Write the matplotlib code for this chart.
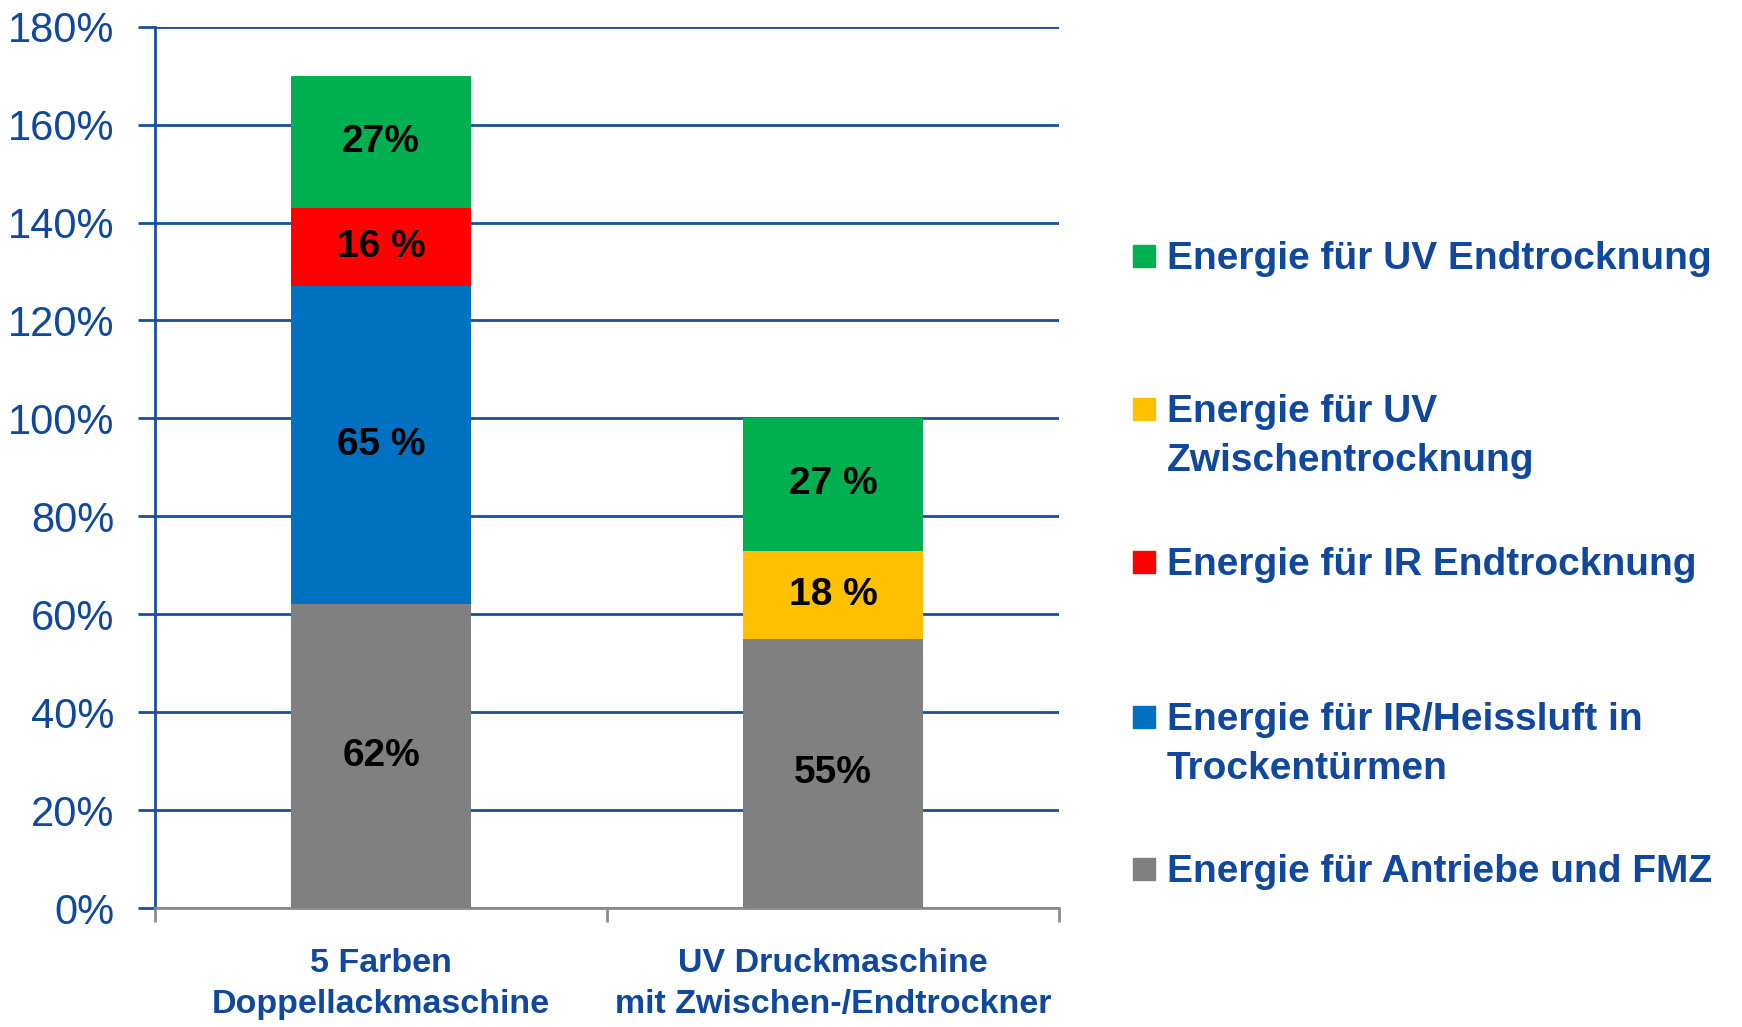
import numpy as np
import matplotlib.pyplot as plt
from matplotlib.patches import Rectangle

plt.rcParams["font.family"] = ["Liberation Sans", "DejaVu Sans"]

# ------------------------------------------ data
categories = ['5 Farben\nDoppellackmaschine', 'UV Druckmaschine\nmit Zwischen-/Endtrockner']
series = ['Energie für Antriebe und FMZ',
          'Energie für IR/Heissluft in\nTrockentürmen',
          'Energie für IR Endtrocknung',
          'Energie für UV\nZwischentrocknung',
          'Energie für UV Endtrocknung']
gray_vals = [62, 55]
blue_vals = [65, 0]
red_vals = [16, 0]
yellow_vals = [0, 18]
green_vals = [27, 27]
gray_lbl = ['62%', '55%']
blue_lbl = ['65 %', '']
red_lbl = ['16 %', '']
yellow_lbl = ['', '18 %']
green_lbl = ['27%', '27 %']
yticks = [0, 20, 40, 60, 80, 100, 120, 140, 160, 180]
ytick_labels = ['%d%%' % v for v in yticks]

colors = ['#808080', '#0070C0', '#FF0000', '#FFC000', '#00B050']
txt_blue = '#10489E'
grid_blue = '#1A4F9C'

# ------------------------------------------ figure
fig = plt.figure(figsize=(17.42, 10.27), dpi=100)
ax = fig.add_axes([155/1742, 1-908/1027, (1059-155)/1742, (908-26.7)/1027])

x = np.arange(len(categories))
values = [gray_vals, blue_vals, red_vals, yellow_vals, green_vals]
labels = [gray_lbl, blue_lbl, red_lbl, yellow_lbl, green_lbl]
bottom = np.zeros(len(categories))
for vals, lbls, c in zip(values, labels, colors):
    vals = np.array(vals, dtype=float)
    ax.bar(x, vals, 0.4, bottom=bottom, color=c, zorder=3)
    for xi, v, b, t in zip(x, vals, bottom, lbls):
        if v > 0 and t:
            ax.text(xi, b + v/2, t, ha='center', va='center', fontsize=28,
                    fontweight='bold', color='black', zorder=4)
    bottom += vals

ax.set_xlim(-0.5, 1.5)
ax.set_ylim(0, 180)
ax.set_yticks(yticks)
ax.set_yticklabels(ytick_labels)
ax.yaxis.grid(True, color=grid_blue, lw=2, zorder=0)
ax.set_axisbelow(True)
ax.tick_params(axis='y', colors=grid_blue, length=12, width=2, pad=17,
               labelsize=30, labelcolor=txt_blue)

# category boundaries as ticks, names below
ax.set_xticks([-0.5, 0.5, 1.5])
ax.set_xticklabels([])
ax.tick_params(axis='x', colors='#8C8C8C', length=10, width=2, direction='out')
for xi, name in zip(x, categories):
    ax.annotate(name, (xi, 0), xytext=(0, -29), textcoords='offset points',
                ha='center', va='top', fontsize=24.5, fontweight='bold',
                color=txt_blue, linespacing=1.4, annotation_clip=False)

for s in ['top', 'right']:
    ax.spines[s].set_visible(False)
ax.spines['left'].set_color(grid_blue)
ax.spines['left'].set_linewidth(2)
ax.spines['bottom'].set_color('#8C8C8C')
ax.spines['bottom'].set_linewidth(2)

# ------------------------------------------ legend (top to bottom: reversed stack)
leg_y = [256, 409, 562, 717, 869]
for i, (name, c) in enumerate(zip(series[::-1], colors[::-1])):
    yy = 1 - leg_y[i]/1027
    fig.patches.append(Rectangle((1133/1742, yy - 11/1027), 22/1742, 22/1027,
                                 transform=fig.transFigure, color=c, zorder=5))
    fig.text(1167/1742, yy + 15/1027, name, ha='left', va='top', fontsize=28,
             fontweight='bold', color=txt_blue, linespacing=1.45)

fig.savefig('out.png', dpi=100)
